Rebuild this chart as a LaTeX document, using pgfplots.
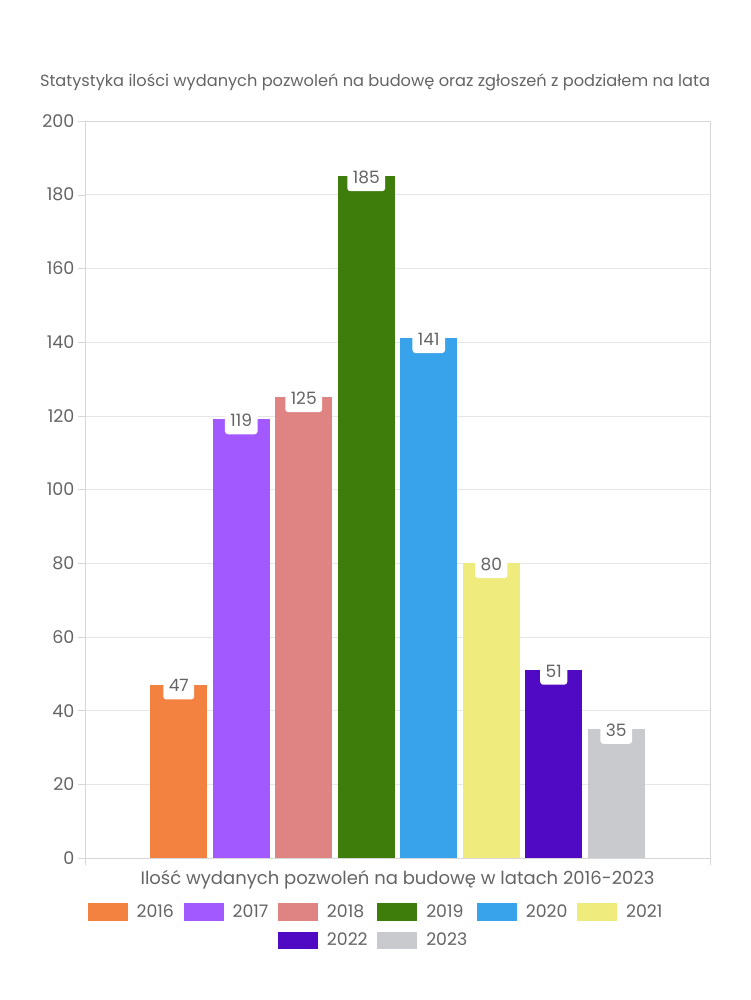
\documentclass[border=0pt]{standalone}
\usepackage{fontspec}
\setmainfont{Poppins}
\usepackage{pgfplots}
\pgfplotsset{compat=1.18}
\definecolor{c2016}{RGB}{243,130,65}
\definecolor{c2017}{RGB}{162,89,255}
\definecolor{c2018}{RGB}{224,131,131}
\definecolor{c2019}{RGB}{62,125,12}
\definecolor{c2020}{RGB}{56,162,234}
\definecolor{c2021}{RGB}{240,235,125}
\definecolor{c2022}{RGB}{81,10,196}
\definecolor{c2023}{RGB}{201,202,206}
\definecolor{txt}{RGB}{100,100,100}
\definecolor{gridc}{RGB}{230,230,230}
\definecolor{axc}{RGB}{215,215,215}
\begin{document}
\begin{tikzpicture}
\path[use as bounding box] (0,0) rectangle (750pt,1000pt);
\begin{axis}[
  at={(85pt,142pt)}, anchor=south west,
  scale only axis, width=625pt, height=737pt,
  xmin=-1.5, xmax=8.5, ymin=0, ymax=200,
  ybar,
  ytick={0,20,...,200},
  xtick={-1.5,8.5}, xticklabels={,},
  xtick pos=lower, ytick pos=left,
  tick align=outside, major tick length=7pt,
  tick style={draw=axc},
  axis line style={draw=axc},
  ymajorgrids, grid style={draw=gridc},
  /pgf/number format/assume math mode=true,
  tick label style={font=\fontsize{17.5}{20}\selectfont, text=txt},
  title={Statystyka ilości wydanych pozwoleń na budowę oraz zgłoszeń z podziałem na lata},
  title style={at={(axis description cs:0.464,1)}, anchor=center, yshift=33pt, font=\fontsize{16.2}{19}\selectfont, text=txt},
  xlabel={Ilość wydanych pozwoleń na budowę w latach 2016-2023},
  xlabel style={at={(axis description cs:0.5,0)}, anchor=center, yshift=-22pt, font=\fontsize{18}{21}\selectfont, text=txt},
  nodes near coords,
  every node near coord/.append style={anchor=center, yshift=-1pt, fill=white, rounded corners=3pt, text=txt, font=\fontsize{17}{20}\selectfont, inner xsep=5.5pt, inner ysep=7.5pt},
  legend columns=6,
  legend image code/.code={\fill[#1,draw=none] (0pt,-8.5pt) rectangle (40pt,8.5pt);},
  legend style={at={(axis description cs:0.4672,0)}, anchor=center, yshift=-68pt, draw=none, fill=none,
    font=\fontsize{17.3}{20}\selectfont, text=txt,
    /tikz/column sep=5pt, /tikz/row sep=11pt,
    /tikz/every even column/.append style={column sep=5.6pt},
    nodes={inner xsep=4pt, inner ysep=0pt}},
  legend cell align=left,
]
\addplot[fill=c2016, draw=none, bar width=57pt, bar shift=0pt] coordinates {(0,47)};
\addlegendentry{2016}
\addplot[fill=c2017, draw=none, bar width=57pt, bar shift=0pt] coordinates {(1,119)};
\addlegendentry{2017}
\addplot[fill=c2018, draw=none, bar width=57pt, bar shift=0pt] coordinates {(2,125)};
\addlegendentry{2018}
\addplot[fill=c2019, draw=none, bar width=57pt, bar shift=0pt] coordinates {(3,185)};
\addlegendentry{2019}
\addplot[fill=c2020, draw=none, bar width=57pt, bar shift=0pt] coordinates {(4,141)};
\addlegendentry{2020}
\addplot[fill=c2021, draw=none, bar width=57pt, bar shift=0pt] coordinates {(5,80)};
\addlegendentry{2021}
\addlegendimage{empty legend}\addlegendentry{}
\addlegendimage{empty legend}\addlegendentry{}
\addplot[fill=c2022, draw=none, bar width=57pt, bar shift=0pt, forget plot] coordinates {(6,51)};
\addlegendimage{fill=c2022, draw=none}\addlegendentry{2022}
\addplot[fill=c2023, draw=none, bar width=57pt, bar shift=0pt, forget plot] coordinates {(7,35)};
\addlegendimage{fill=c2023, draw=none}\addlegendentry{2023}
\end{axis}
\end{tikzpicture}
\end{document}
